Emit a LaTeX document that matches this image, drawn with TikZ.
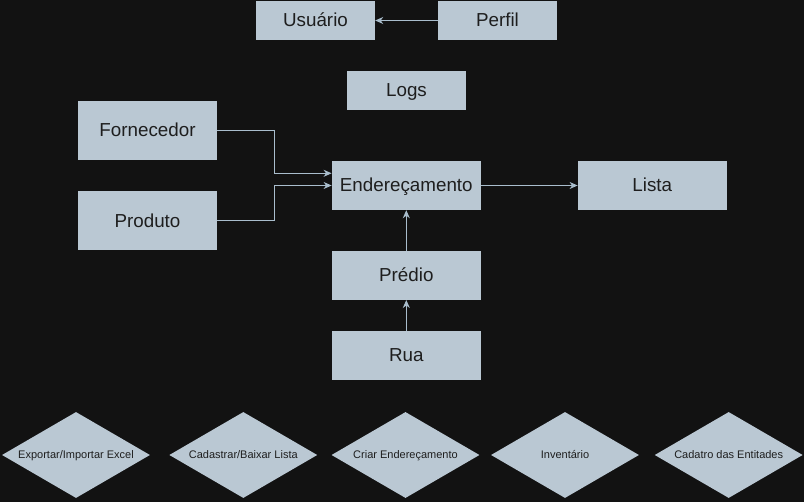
\documentclass[tikz,border=0pt]{standalone}
\usepackage{fontspec}
\setmainfont{Liberation Sans}
\usetikzlibrary{shapes.geometric,arrows.meta,calc}
\definecolor{bgc}{HTML}{121212}
\definecolor{boxc}{HTML}{BAC8D3}
\definecolor{linec}{HTML}{A9BDCC}
\definecolor{txtc}{HTML}{1E1E1E}
\tikzset{
  ent/.style={rectangle, fill=boxc, draw=none, text=txtc, inner sep=0pt,
    text height=16.9pt, text depth=3.95pt,
    font=\fontsize{18.8}{22}\selectfont},
  act/.style={diamond, fill=boxc, draw=none, text=txtc, inner sep=0pt, aspect=1.72,
    text height=9.9pt, text depth=2.3pt,
    minimum width=148pt, minimum height=86pt, font=\fontsize{11}{13}\selectfont},
  conn/.style={draw=linec, line width=1pt, -{Stealth[length=8pt,width=7pt,inset=2.5pt]}},
}
\begin{document}
\begin{tikzpicture}[x=1pt,y=-1pt]
\fill[bgc] (0,0) rectangle (804,502);
\useasboundingbox (0,0) rectangle (804,502);
% entities
\node[ent, minimum width=119pt, minimum height=39pt] (usuario) at (315.5,20.5) {Usuário};
\node[ent, minimum width=119pt, minimum height=39pt] (perfil) at (497.5,20.5) {Perfil};
\node[ent, minimum width=119pt, minimum height=39pt] (logs) at (406.5,90.3) {Logs};
\node[ent, minimum width=139pt, minimum height=59pt] (forn) at (147.5,130.4) {Fornecedor};
\node[ent, minimum width=139pt, minimum height=59pt] (prod) at (147.5,220.6) {Produto};
\node[ent, minimum width=149pt, minimum height=49pt] (end) at (406.3,185.5) {Endereçamento};
\node[ent, minimum width=149pt, minimum height=49pt] (lista) at (652.3,185.5) {Lista};
\node[ent, minimum width=149pt, minimum height=49pt] (predio) at (406.3,275.3) {Prédio};
\node[ent, minimum width=149pt, minimum height=49pt] (rua) at (406.3,355.4) {Rua};
% actions
\node[act] (d1) at (76,455) {Exportar/Importar Excel};
\node[act] (d2) at (243.3,455) {Cadastrar/Baixar Lista};
\node[act] (d3) at (405.5,455) {Criar Endereçamento};
\node[act] (d4) at (565,455) {Inventário};
\node[act] (d5) at (728.7,455) {Cadatro das Entitades};
% connectors
\draw[conn] (perfil.west) -- (usuario.east);
\draw[conn] (forn.east) -- ++(57,0) |- ([yshift=12.2pt]end.west);
\draw[conn] (prod.east) -- ++(57,0) |- (end.west);
\draw[conn] (end.east) -- (lista.west);
\draw[conn] (predio.north) -- (end.south);
\draw[conn] (rua.north) -- (predio.south);
\end{tikzpicture}
\end{document}
